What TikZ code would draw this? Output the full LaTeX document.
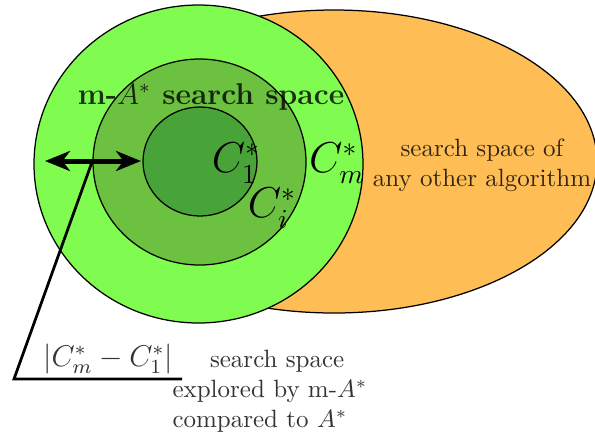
\documentclass[tikz,border=0pt]{standalone}
\usetikzlibrary{arrows.meta}
\definecolor{outergreen}{RGB}{128,252,80}
\definecolor{midgreen}{RGB}{108,194,64}
\definecolor{innergreen}{RGB}{72,164,56}
\definecolor{orangefill}{RGB}{255,190,85}
\tikzset{
  region/.style={draw=black, line width=0.5pt},
  clabel/.style={font=\fontsize{16}{19}\selectfont, inner sep=0pt},
  plaintext/.style={text=black, text opacity=0.8, inner sep=0pt},
  bigarrow/.style={line width=2pt, {Stealth[length=10pt,width=8pt,inset=3pt]}-{Stealth[length=10pt,width=8pt,inset=3pt]}},
  leader/.style={line width=1.1pt}
}
\begin{document}
\begin{tikzpicture}[x=0.4pt,y=-0.4pt]
\useasboundingbox (0,0) rectangle (595,436);
% regions
\draw[region, fill=orangefill] (334,161.5) ellipse [x radius=263, y radius=151.5];
\draw[region, fill=outergreen] (198.5,164) ellipse [x radius=164.5, y radius=159];
\draw[region, fill=midgreen] (199.5,162) ellipse [x radius=106.5, y radius=103];
\draw[region, fill=innergreen] (200,161.5) ellipse [x radius=57, y radius=54.5];
% labels
\node[plaintext, font=\large\bfseries] (title) at (211,97) {m-$A^*$ search space};
\node[clabel] (c1) at (236,163) {$C_1^*$};
\node[clabel] (ci) at (272,208) {$C_i^*$};
\node[clabel] (cm) at (337,163) {$C_m^*$};
\node[plaintext, align=center] (other) at (482,165) {search space of\\any other algorithm};
% arrow and leader
\coordinate (al) at (45,161);
\coordinate (ar) at (141,161);
\draw[bigarrow] (al) -- (ar);
\coordinate (lt) at (92,162);
\coordinate (lb) at (14,379);
\coordinate (lr) at (182,379);
\draw[leader] (lt) -- (lb) -- (lr);
\node[plaintext, font=\large] (diff) at (108,359) {$|C_m^*-C_1^*|$};
\node[plaintext, align=left, anchor=north west] (expl) at (172,350) {\hspace*{15pt}search space\\explored by m-$A^*$\\compared to $A^*$};
\end{tikzpicture}
\end{document}
